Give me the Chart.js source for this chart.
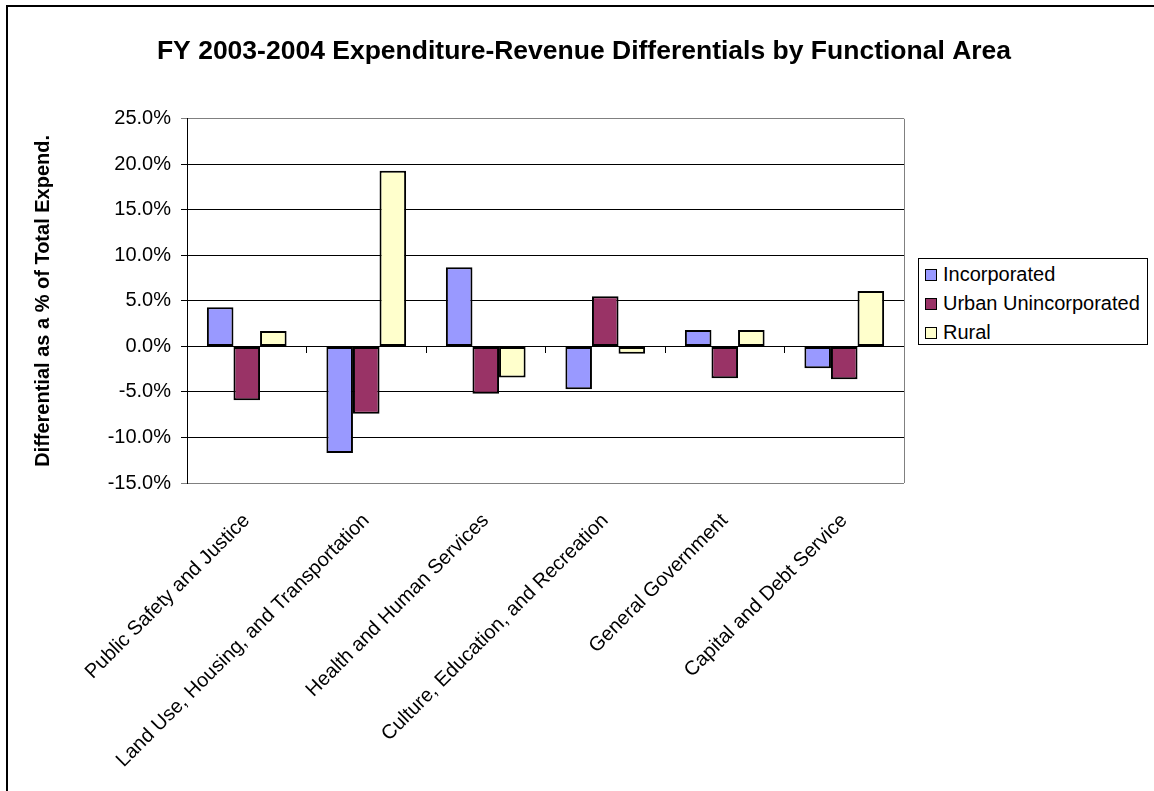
<!DOCTYPE html>
<html>
<head>
<meta charset="utf-8">
<title>FY 2003-2004 Expenditure-Revenue Differentials by Functional Area</title>
<script src="https://cdn.jsdelivr.net/npm/chart.js@4.4.1/dist/chart.umd.min.js"></script>
<style>
	html, body { margin: 0; padding: 0; background: #fff; overflow: hidden; }
	#wrap { position: relative; width: 1154px; height: 791px; overflow: hidden; }
	#frame { position: absolute; left: 6px; top: 5px; width: 1200px; height: 900px; border-left: 2px solid #000; border-top: 2px solid #000; }
	#chart { position: absolute; left: 0; top: 0; }
	#legend { position: absolute; left: 918px; top: 258px; width: 222px; height: 84px; border: 1px solid #000; background: #fff;
		padding: 1px 0 0 6px; box-sizing: content-box; font-family: "Liberation Sans", Arial, sans-serif; font-size: 20px; color: #000; }
	#legend .item { height: 29px; display: flex; align-items: center; white-space: nowrap; }
	#legend .box { width: 10px; height: 10px; border: 1px solid #000; margin-right: 6px; }
</style>
</head>
<body>
<div id="wrap">
	<div id="frame"></div>
	<canvas id="chart" width="1154" height="791"></canvas>
	<div id="legend"></div>
</div>
<script>
var categories = [
	"Public Safety and Justice",
	"Land Use, Housing, and Transportation",
	"Health and Human Services",
	"Culture, Education, and Recreation",
	"General Government",
	"Capital and Debt Service"
];
var incorporated = [4.3, -11.7, 8.7, -4.7, 1.8, -2.4];
var urbanUnincorporated = [-5.9, -7.4, -5.2, 5.5, -3.5, -3.6];
var rural = [1.7, 19.3, -3.4, -0.8, 1.8, 6.1];
var seriesNames = ["Incorporated", "Urban Unincorporated", "Rural"];
var yMin = -15, yMax = 25, yStep = 5;

(function() {
	var font = "'Liberation Sans', Arial, sans-serif";
	var colors = ["#9999FF", "#993366", "#FFFFCC"];
	var values = [incorporated, urbanUnincorporated, rural];

	// gray frame line on the right side of the plot
	var plotFrame = {
		id: 'plotFrame',
		beforeDatasetsDraw: function(chart) {
			var a = chart.chartArea, ctx = chart.ctx;
			ctx.save();
			ctx.strokeStyle = '#808080';
			ctx.lineWidth = 1;
			ctx.beginPath();
			ctx.moveTo(Math.round(a.right) + 0.5, a.top);
			ctx.lineTo(Math.round(a.right) + 0.5, a.bottom);
			ctx.stroke();
			ctx.restore();
		}
	};

	var datasets = values.map(function(v, i) {
		return {
			label: seriesNames[i],
			data: v,
			backgroundColor: colors[i],
			borderColor: '#000',
			borderWidth: 2,
			borderSkipped: false,
			categoryPercentage: 0.667,
			barPercentage: 1.0
		};
	});

	var ctx = document.getElementById('chart').getContext('2d');
	var chart = new Chart(ctx, {
		type: 'bar',
		data: { labels: categories, datasets: datasets },
		options: {
			responsive: false,
			animation: false,
			devicePixelRatio: 1,
			layout: { padding: { left: 14, right: 0, top: 0, bottom: 0 } },
			plugins: {
				legend: { display: false },
				tooltip: { enabled: false },
				title: {
					display: true,
					text: 'FY 2003-2004 Expenditure-Revenue Differentials by Functional Area',
					color: '#000',
					font: { family: font, size: 26.5, weight: 'bold' },
					padding: { top: 36, bottom: 51 }
				}
			},
			scales: {
				x: {
					position: 'bottom',
					grid: { display: false },
					border: { display: false },
					ticks: {
						color: '#000',
						font: { family: font, size: 20 },
						minRotation: 45,
						maxRotation: 45,
						autoSkip: false,
						padding: 18
					},
					afterFit: function(s) { s.height = 308; }
				},
				x2: {
					type: 'category',
					position: { y: 0 },
					offset: true,
					grid: { display: true, drawOnChartArea: false, drawTicks: true, tickLength: 6, color: '#000', offset: true },
					border: { display: true, color: '#000', width: 1 },
					ticks: { display: false },
					afterFit: function(s) { s.height = 0; }
				},
				y: {
					min: yMin,
					max: yMax,
					ticks: {
						stepSize: yStep,
						color: '#000',
						font: { family: font, size: 20 },
						padding: 10,
						callback: function(v) { return v.toFixed(1) + '%'; }
					},
					grid: {
						color: function(c) {
							return (c.tick && (c.tick.value === yMin || c.tick.value === yMax)) ? '#808080' : '#000';
						},
						tickLength: 6
					},
					border: { display: true, color: '#000', width: 1 },
					title: {
						display: true,
						text: 'Differential as a % of Total Expend.',
						color: '#000',
						font: { family: font, size: 20, weight: 'bold' },
						padding: { top: 17, bottom: 0 }
					},
					afterFit: function(s) { s.width = 173; }
				},
				y2: {
					type: 'linear',
					position: 'right',
					grid: { display: false },
					border: { display: false },
					ticks: { display: false },
					afterFit: function(s) { s.width = 250; }
				}
			}
		},
		plugins: [plotFrame]
	});

	// legend built from the chart's datasets
	var legend = document.getElementById('legend');
	chart.data.datasets.forEach(function(ds) {
		var item = document.createElement('div');
		item.className = 'item';
		var box = document.createElement('span');
		box.className = 'box';
		box.style.background = ds.backgroundColor;
		var txt = document.createElement('span');
		txt.textContent = ds.label;
		item.appendChild(box);
		item.appendChild(txt);
		legend.appendChild(item);
	});
})();
</script>
</body>
</html>
